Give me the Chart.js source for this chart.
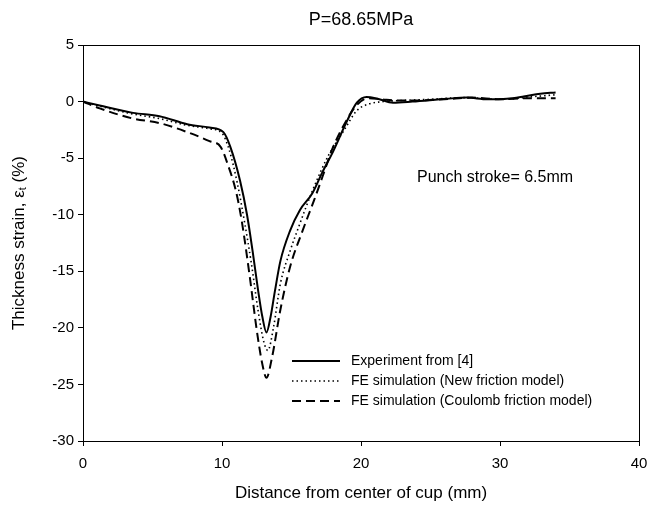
<!DOCTYPE html>
<html>
<head>
<meta charset="utf-8">
<script src="https://cdn.jsdelivr.net/npm/chart.js@4/dist/chart.umd.min.js"></script>
<style>
html,body{margin:0;padding:0;background:#fff;}
#wrap{width:648px;height:505px;}
</style>
</head>
<body>
<div id="wrap"><canvas id="c" width="648" height="505"></canvas></div>
<script>
const chartTitle = "P=68.65MPa";
const xTitle = "Distance from center of cup (mm)";
const yTitleMain = "Thickness strain, ε";
const yTitleSub = "t";
const yTitleEnd = " (%)";
const noteText = "Punch stroke= 6.5mm";
const seriesLabels = ["Experiment from [4]", "FE simulation (New friction model)", "FE simulation (Coulomb friction model)"];

const expX = [0, 1.2, 3.6, 5.5, 7.5, 9.1, 10.1, 10.6, 11.3, 11.8, 12.2, 12.6, 12.9, 13.2, 13.5, 13.8, 14.2, 14.9, 15.6, 16.5, 17.2, 18.0, 19.0, 19.7, 20.4, 21.2, 22.3, 23.7, 26.2, 27.6, 29.1, 30.5, 31.7, 32.9, 34.0];
const expY = [0, -0.35, -1.0, -1.3, -2.0, -2.3, -2.7, -4.0, -7.0, -10.0, -13.2, -16.7, -19.0, -20.4, -19.0, -16.8, -14.1, -11.4, -9.6, -8.1, -6.3, -4.4, -1.7, -0.1, 0.4, 0.25, -0.1, 0.0, 0.25, 0.35, 0.2, 0.25, 0.45, 0.7, 0.8];

const newX = [0, 1.2, 3.6, 5.5, 7.5, 9.1, 10.0, 10.5, 11.1, 11.6, 12.1, 12.6, 13.0, 13.3, 13.7, 14.2, 14.9, 15.6, 16.5, 17.6, 18.8, 19.7, 20.6, 21.6, 23.0, 25.0, 27.5, 29.0, 30.5, 32.0, 33.0, 34.0];
const newY = [0, -0.4, -1.1, -1.5, -2.1, -2.4, -2.8, -4.2, -7.2, -10.5, -14.2, -18.5, -21.2, -22.0, -20.0, -16.1, -13.2, -10.8, -7.9, -4.9, -2.5, -0.8, -0.2, 0.0, 0.1, 0.2, 0.35, 0.25, 0.2, 0.4, 0.5, 0.6];

const coulX = [0, 1.2, 3.6, 5.5, 7.5, 9.1, 9.9, 10.4, 11.0, 11.4, 12.0, 12.5, 12.9, 13.2, 13.6, 14.2, 14.9, 15.8, 16.6, 17.3, 17.9, 18.8, 19.7, 20.5, 21.5, 22.5, 24.0, 26.0, 28.0, 30.0, 32.0, 34.0];
const coulY = [0, -0.6, -1.5, -1.9, -2.7, -3.5, -4.0, -5.5, -7.9, -10.4, -15.5, -20.2, -23.2, -24.4, -22.6, -18.4, -14.6, -11.4, -8.8, -6.4, -4.3, -2.0, -0.3, 0.3, 0.2, 0.1, 0.1, 0.2, 0.35, 0.2, 0.3, 0.3];

const xTicks = [0, 10, 20, 30, 40];
const yTicks = [5, 0, -5, -10, -15, -20, -25, -30];

function pts(xs, ys){ return xs.map((x,i)=>({x:x, y:ys[i]})); }

const FONT = "'Liberation Sans', Arial, sans-serif";
const dashes = [[], [1.5, 3], [9, 5]];
const widths = [2, 1.6, 2];

const decor = {
  id: 'decor',
  afterDraw(chart){
    const ctx = chart.ctx, a = chart.chartArea;
    ctx.save();
    ctx.strokeStyle = '#000';
    ctx.lineWidth = 1;
    ctx.setLineDash([]);
    ctx.strokeRect(Math.round(a.left)+0.5, Math.round(a.top)+0.5, Math.round(a.right-a.left), Math.round(a.bottom-a.top));
    // title
    ctx.fillStyle = '#000';
    ctx.font = "18px " + FONT;
    ctx.textAlign = 'center';
    ctx.textBaseline = 'middle';
    ctx.fillText(chartTitle, (a.left+a.right)/2, 20);
    // note
    ctx.font = "16px " + FONT;
    ctx.textAlign = 'left';
    ctx.fillText(noteText, 417, 178);
    // x title
    ctx.font = "17px " + FONT;
    ctx.textAlign = 'center';
    ctx.fillText(xTitle, (a.left+a.right)/2, 493);
    // y title rotated
    ctx.save();
    ctx.translate(19, (a.top+a.bottom)/2);
    ctx.rotate(-Math.PI/2);
    ctx.font = "17px " + FONT;
    const w1 = ctx.measureText(yTitleMain).width;
    ctx.font = "11px " + FONT;
    const w2 = ctx.measureText(yTitleSub).width;
    ctx.font = "17px " + FONT;
    const w3 = ctx.measureText(yTitleEnd).width;
    let sx = -(w1+w2+w3)/2;
    ctx.textAlign = 'left';
    ctx.fillText(yTitleMain, sx, 0);
    ctx.font = "11px " + FONT;
    ctx.fillText(yTitleSub, sx+w1, 4);
    ctx.font = "17px " + FONT;
    ctx.fillText(yTitleEnd, sx+w1+w2, 0);
    ctx.restore();
    // legend
    ctx.font = "14px " + FONT;
    ctx.textAlign = 'left';
    chart.data.datasets.forEach((ds, i) => {
      const y = 361 + i*20;
      ctx.beginPath();
      ctx.lineWidth = widths[i];
      ctx.setLineDash(dashes[i]);
      ctx.moveTo(292, y);
      ctx.lineTo(340, y);
      ctx.stroke();
      ctx.setLineDash([]);
      ctx.fillText(ds.label, 351, y);
    });
    ctx.restore();
  }
};

new Chart(document.getElementById('c'), {
  type: 'line',
  data: {
    datasets: [
      {label: seriesLabels[0], data: pts(expX, expY), borderColor: '#000', borderWidth: widths[0], borderDash: dashes[0], pointRadius: 0, cubicInterpolationMode: 'monotone', fill: false},
      {label: seriesLabels[1], data: pts(newX, newY), borderColor: '#000', borderWidth: widths[1], borderDash: dashes[1], pointRadius: 0, cubicInterpolationMode: 'monotone', fill: false},
      {label: seriesLabels[2], data: pts(coulX, coulY), borderColor: '#000', borderWidth: widths[2], borderDash: dashes[2], pointRadius: 0, cubicInterpolationMode: 'monotone', fill: false}
    ]
  },
  options: {
    responsive: false,
    animation: false,
    layout: {padding: {left: 0, right: 9, top: 45, bottom: 0}},
    plugins: {legend: {display: false}, title: {display: false}, tooltip: {enabled: false}},
    scales: {
      x: {
        type: 'linear', min: 0, max: 40,
        afterBuildTicks(s){ s.ticks = xTicks.map(v=>({value:v})); },
        afterFit(s){ s.height = 64; s.paddingLeft = 0; s.paddingRight = 0; },
        grid: {drawOnChartArea: false, tickLength: 5, color: '#000'},
        border: {color: '#000', width: 1},
        ticks: {color: '#000', font: {family: FONT, size: 15}, padding: 9, maxRotation: 0}
      },
      y: {
        type: 'linear', min: -30, max: 5,
        afterBuildTicks(s){ s.ticks = yTicks.map(v=>({value:v})); },
        afterFit(s){ s.width = 83; s.paddingTop = 0; s.paddingBottom = 0; },
        grid: {drawOnChartArea: false, tickLength: 5, color: '#000'},
        border: {color: '#000', width: 1},
        ticks: {color: '#000', font: {family: FONT, size: 15}, padding: 4}
      }
    }
  },
  plugins: [decor]
});
</script>
</body>
</html>
